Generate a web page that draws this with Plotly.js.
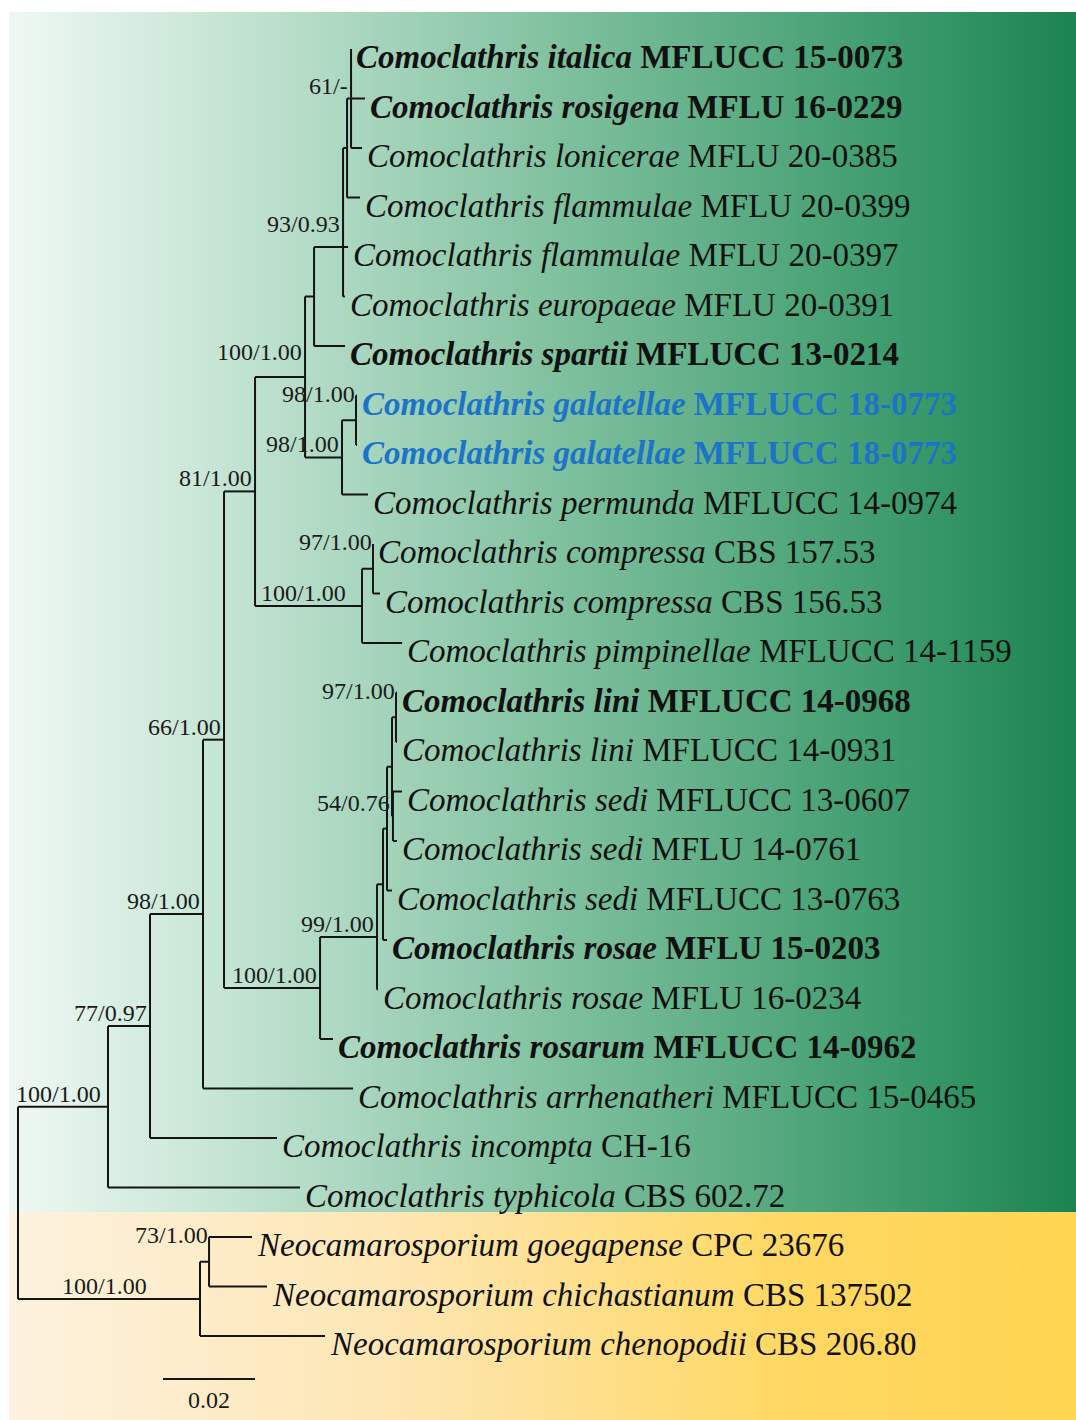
<!DOCTYPE html>
<html><head><meta charset="utf-8">
<script src="https://cdn.plot.ly/plotly-3.0.1.min.js"></script>
<style>html,body{margin:0;padding:0;background:#fff;}#chart{width:1076px;height:1420px;}</style>
</head><body><div id="chart"></div>
<script>
// ---------- DATA ----------
// Tips, listed top to bottom
const tipSpecies = [
  "Comoclathris italica","Comoclathris rosigena","Comoclathris lonicerae","Comoclathris flammulae",
  "Comoclathris flammulae","Comoclathris europaeae","Comoclathris spartii","Comoclathris galatellae",
  "Comoclathris galatellae","Comoclathris permunda","Comoclathris compressa","Comoclathris compressa",
  "Comoclathris pimpinellae","Comoclathris lini","Comoclathris lini","Comoclathris sedi",
  "Comoclathris sedi","Comoclathris sedi","Comoclathris rosae","Comoclathris rosae",
  "Comoclathris rosarum","Comoclathris arrhenatheri","Comoclathris incompta","Comoclathris typhicola",
  "Neocamarosporium goegapense","Neocamarosporium chichastianum","Neocamarosporium chenopodii"];
const tipStrains = [
  "MFLUCC 15-0073","MFLU 16-0229","MFLU 20-0385","MFLU 20-0399",
  "MFLU 20-0397","MFLU 20-0391","MFLUCC 13-0214","MFLUCC 18-0773",
  "MFLUCC 18-0773","MFLUCC 14-0974","CBS 157.53","CBS 156.53",
  "MFLUCC 14-1159","MFLUCC 14-0968","MFLUCC 14-0931","MFLUCC 13-0607",
  "MFLU 14-0761","MFLUCC 13-0763","MFLU 15-0203","MFLU 16-0234",
  "MFLUCC 14-0962","MFLUCC 15-0465","CH-16","CBS 602.72",
  "CPC 23676","CBS 137502","CBS 206.80"];
const tipParents = ["L","L","L","K","J","J","H","M","M","I","P","P","O","Lw","Lw","U","U","T","S","Q","F","C","B","A","N2","N2","N"];
const tipLengths = [0,0.00304,0.00239,0.00283,0.0011,0.0004,0.00674,0.0002,0.0002,0.00565,0,0.00152,
  0.0087,0.0002,0.0002,0.00196,0.00087,0.00109,0.00087,0.0002,0.00283,0.03261,0.02761,0.04174,
  0.00935,0.01261,0.02717];
// ex-type strains (bold) and the new species (highlighted)
const typeStrains = ["MFLUCC 15-0073","MFLU 16-0229","MFLUCC 13-0214","MFLUCC 14-0968","MFLU 15-0203","MFLUCC 14-0962"];
const newSpecies = ["Comoclathris galatellae"];

// Internal nodes
const nodeNames   = ["R","A","B","C","D","E","G","H","J","K","L","I","M","O","P","F","Q","S","T","X","Lw","U","N","N2"];
const nodeParents = [null,"R","A","B","C","D","E","G","H","J","K","G","I","E","O","D","F","Q","S","T","X","X","R","N"];
const nodeLengths = [0,0.01957,0.00913,0.01152,0.00457,0.00674,0.01087,0.00196,0.0063,0.00087,0.00087,
  0.00804,0.00304,0.02326,0.00239,0.02087,0.01239,0.0013,0.00087,0.00109,0.00087,0.0002,0.03957,0.00196];
const nodeSupport = ["","100/1.00","77/0.97","98/1.00","66/1.00","81/1.00","100/1.00","","93/0.93","","61/-",
  "98/1.00","98/1.00","100/1.00","97/1.00","100/1.00","99/1.00","","","","97/1.00","54/0.76","100/1.00","73/1.00"];
const scaleBarLength = 0.02;
const scaleBarText = "0.02";

// ---------- STYLE ----------
const pxPerUnit = 4600, rootPx = 18, pxPerTip = 49.5, firstTipPx = 49, W = 1076, H = 1420;
const supportPlacement = {A:"mid", N:"mid", O:"mid", M:"top", P:"top", Lw:"top", N2:"top"}; // default "node"
const supportLift = {G:12, J:10};
const FONT = "Liberation Serif, Times New Roman, serif";
const LINE = "#141414", BLUE = "#1c74c9";

// ---------- LAYOUT OF TREE ----------
const nodes = {};
nodeNames.forEach((n,i)=>{ nodes[n] = {name:n, parent:nodeParents[i], len:nodeLengths[i], support:nodeSupport[i], children:[], tip:false}; });
tipSpecies.forEach((s,i)=>{ const id="t"+i; nodes[id] = {name:id, parent:tipParents[i], len:tipLengths[i], children:[], tip:true, y:i}; });
Object.values(nodes).forEach(n=>{ if(n.parent) nodes[n.parent].children.push(n); });
function setX(n, px){ n.x = px + n.len; n.children.forEach(c=>setX(c, n.x)); }
setX(nodes.R, 0);
function setY(n){
  if(n.tip) return n.y;
  const ys = n.children.map(setY).sort((a,b)=>a-b);
  n.y = ys.length % 2 ? ys[(ys.length-1)/2] : (ys[0]+ys[ys.length-1])/2;
  n.ymin = ys[0]; n.ymax = ys[ys.length-1];
  return n.y;
}
setY(nodes.R);

const lx=[], ly=[];
Object.values(nodes).forEach(n=>{
  if(n.parent){ const p = nodes[n.parent]; lx.push(p.x, n.x, null); ly.push(n.y, n.y, null); }
  if(!n.tip){ lx.push(n.x, n.x, null); ly.push(n.ymin, n.ymax, null); }
});

const x0 = -rootPx/pxPerUnit, x1 = (W-rootPx)/pxPerUnit;
const y0 = -firstTipPx/pxPerTip, y1 = (H-firstTipPx)/pxPerTip;
const bgLeft = -9/pxPerUnit;
const splitY = (tipSpecies.indexOf("Comoclathris typhicola") + tipSpecies.indexOf("Neocamarosporium goegapense"))/2;

const traces = [
  {type:"scatter", mode:"lines", x:[bgLeft,x1+0.01,x1+0.01,bgLeft,bgLeft], y:[-0.75,-0.75,splitY,splitY,-0.75],
   fill:"toself", fillcolor:"#7fbf9d", line:{width:0}, hoverinfo:"skip",
   fillgradient:{type:"horizontal", colorscale:[[0,"#eff8f3"],[0.18,"#c8e6d6"],[0.5,"#7ec09e"],[0.82,"#389869"],[1,"#127d48"]]}},
  {type:"scatter", mode:"lines", x:[bgLeft,x1+0.01,x1+0.01,bgLeft,bgLeft], y:[splitY,splitY,y1+1,y1+1,splitY],
   fill:"toself", fillcolor:"#fee3a4", line:{width:0}, hoverinfo:"skip",
   fillgradient:{type:"horizontal", colorscale:[[0,"#fdf2df"],[0.35,"#fde6b2"],[0.7,"#ffd863"],[1,"#ffd44e"]]}},
  {type:"scatter", mode:"lines", x:lx, y:ly, line:{color:LINE, width:2}, hoverinfo:"skip", connectgaps:false},
];

// scale bar
const sbX = (163-rootPx)/pxPerUnit, sbY = 26.87;
traces.push({type:"scatter", mode:"lines", x:[sbX, sbX+scaleBarLength], y:[sbY, sbY], line:{color:LINE,width:2}, hoverinfo:"skip"});

const ann = [];
tipSpecies.forEach((sp,i)=>{
  const n = nodes["t"+i], st = tipStrains[i];
  const isNew = newSpecies.includes(sp), isType = typeStrains.includes(st) || isNew;
  const txt = isType ? `<b><i>${sp}</i> ${st}</b>` : `<i>${sp}</i> ${st}`;
  ann.push({x:n.x, y:n.y, xref:"x", yref:"y", text:txt, showarrow:false, xanchor:"left", yanchor:"middle",
    xshift:3, yshift:-8, font:{family:FONT, size:33, color: isNew ? BLUE : "#111"}});
});
Object.values(nodes).forEach(n=>{
  if(n.tip || !n.support) return;
  const mode = supportPlacement[n.name] || "node";
  const lift = supportLift[n.name] || 0;
  const f = {family:FONT, size:24, color:"#1a1a1a"};
  if(mode==="mid"){
    const p = nodes[n.parent];
    ann.push({x:(p.x+n.x)/2 - 0.001, y:n.y, text:n.support, showarrow:false, xanchor:"center", yanchor:"bottom", yshift:-2+lift, font:f});
  } else if(mode==="top"){
    ann.push({x:n.x, y:n.ymin, text:n.support, showarrow:false, xanchor:"right", yanchor:"middle", xshift:1, yshift:2+lift, font:f});
  } else {
    ann.push({x:n.x, y:n.y, text:n.support, showarrow:false, xanchor:"right", yanchor:"bottom", xshift:-1, yshift:-2+lift, font:f});
  }
});
ann.push({x:sbX+scaleBarLength/2, y:sbY, text:scaleBarText, showarrow:false, xanchor:"center", yanchor:"top", yshift:-6,
  font:{family:FONT, size:24, color:"#1a1a1a"}});

const layout = {
  width:W, height:H, margin:{l:0,r:0,t:0,b:0}, showlegend:false,
  paper_bgcolor:"#ffffff", plot_bgcolor:"rgba(0,0,0,0)",
  xaxis:{range:[x0,x1], visible:false, fixedrange:true},
  yaxis:{range:[y1,y0], visible:false, fixedrange:true},
  annotations:ann
};
Plotly.newPlot("chart", traces, layout, {staticPlot:true, displayModeBar:false});
</script></body></html>
